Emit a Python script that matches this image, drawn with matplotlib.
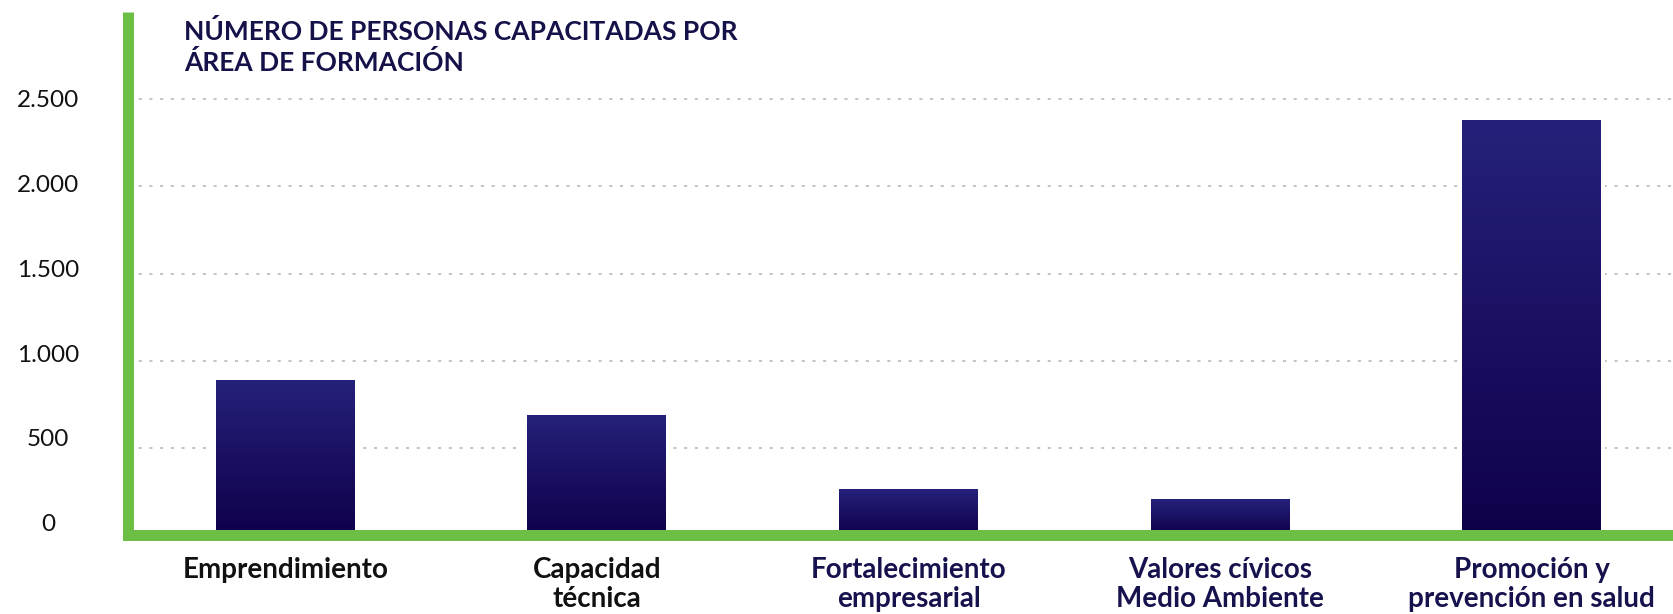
import matplotlib
matplotlib.use("Agg")
import matplotlib.pyplot as plt
import matplotlib.transforms as mtransforms
from matplotlib.colors import LinearSegmentedColormap
import numpy as np

# ---- data ----
categories = ["Emprendimiento", "Capacidad\ntécnica", "Fortalecimiento\nempresarial",
              "Valores cívicos\nMedio Ambiente", "Promoción y\nprevención en salud"]
values = [890, 690, 262, 206, 2380]
label_colors = ["#111111", "#111111", "#16124d", "#16124d", "#16124d"]
yticks = [0, 500, 1000, 1500, 2000, 2500]
ytick_labels = ["0", "500", "1.000", "1.500", "2.000", "2.500"]
title = "NÚMERO DE PERSONAS CAPACITADAS POR\nÁREA DE FORMACIÓN"

GREEN = "#6dbe45"
NAVY = "#15124a"
W, H, DPI = 1673, 614, 100

plt.rcParams['font.family'] = ['Lato', 'DejaVu Sans']

fig = plt.figure(figsize=(W / DPI, H / DPI), dpi=DPI)
ax = fig.add_axes([128 / W, (H - 534.8) / H, 1 - 128 / W, (534.8 - 12.2) / H])

x = np.arange(len(categories))
bw = 0.446
bars = ax.bar(x, values, width=bw, color="#1a1560", edgecolor="white",
              linewidth=5.76, zorder=2)

cmap = LinearSegmentedColormap.from_list("barg", ["#0f004a", "#25217a"])
grad = np.linspace(0, 1, 256).reshape(-1, 1)
for rect in bars:
    x0 = rect.get_x()
    im = ax.imshow(grad, extent=[x0, x0 + rect.get_width(), 0, rect.get_height()],
                   origin="lower", aspect="auto", cmap=cmap, zorder=2.2,
                   interpolation="bilinear")
    im.set_clip_path(rect)

ax.set_xlim(-0.505, 4.453)
ax.set_ylim(0, 3000)

# spines
for s in ["top", "right"]:
    ax.spines[s].set_visible(False)
for s in ["left", "bottom"]:
    ax.spines[s].set_color(GREEN)
    ax.spines[s].set_linewidth(11 * 0.72)
    ax.spines[s].set_zorder(3)
ax.spines["left"].set_capstyle("butt")
ax.spines["bottom"].set_capstyle("projecting")

# grid
ax.set_axisbelow(True)
ax.yaxis.grid(True, color="#b3b3b3", linewidth=1.1, linestyle=(0, (2, 5.0)))
ax.xaxis.grid(False)

# y ticks
ax.set_yticks(yticks)
ax.set_yticklabels(ytick_labels)
ax.tick_params(axis="y", length=0, pad=80 * 0.72, labelsize=17.5, labelcolor="#111111")
for lbl, v in zip(ax.get_yticklabels(), yticks):
    lbl.set_horizontalalignment("center")
    dy = (12 - 11 * v / 2500) * 0.72 / 72.0
    lbl.set_transform(lbl.get_transform() + mtransforms.ScaledTranslation(0, dy, fig.dpi_scale_trans))

# x ticks
ax.set_xticks(x)
ax.set_xticklabels(categories, fontweight="bold", fontsize=20, linespacing=1.15)
ax.tick_params(axis="x", length=0, pad=16)
for lbl, c in zip(ax.get_xticklabels(), label_colors):
    lbl.set_color(c)

fig.text(184 / W, (H - 19) / H, title, ha="left", va="top", fontsize=19,
         fontweight="bold", color=NAVY, linespacing=1.28)

fig.savefig("out.png", dpi=DPI)
